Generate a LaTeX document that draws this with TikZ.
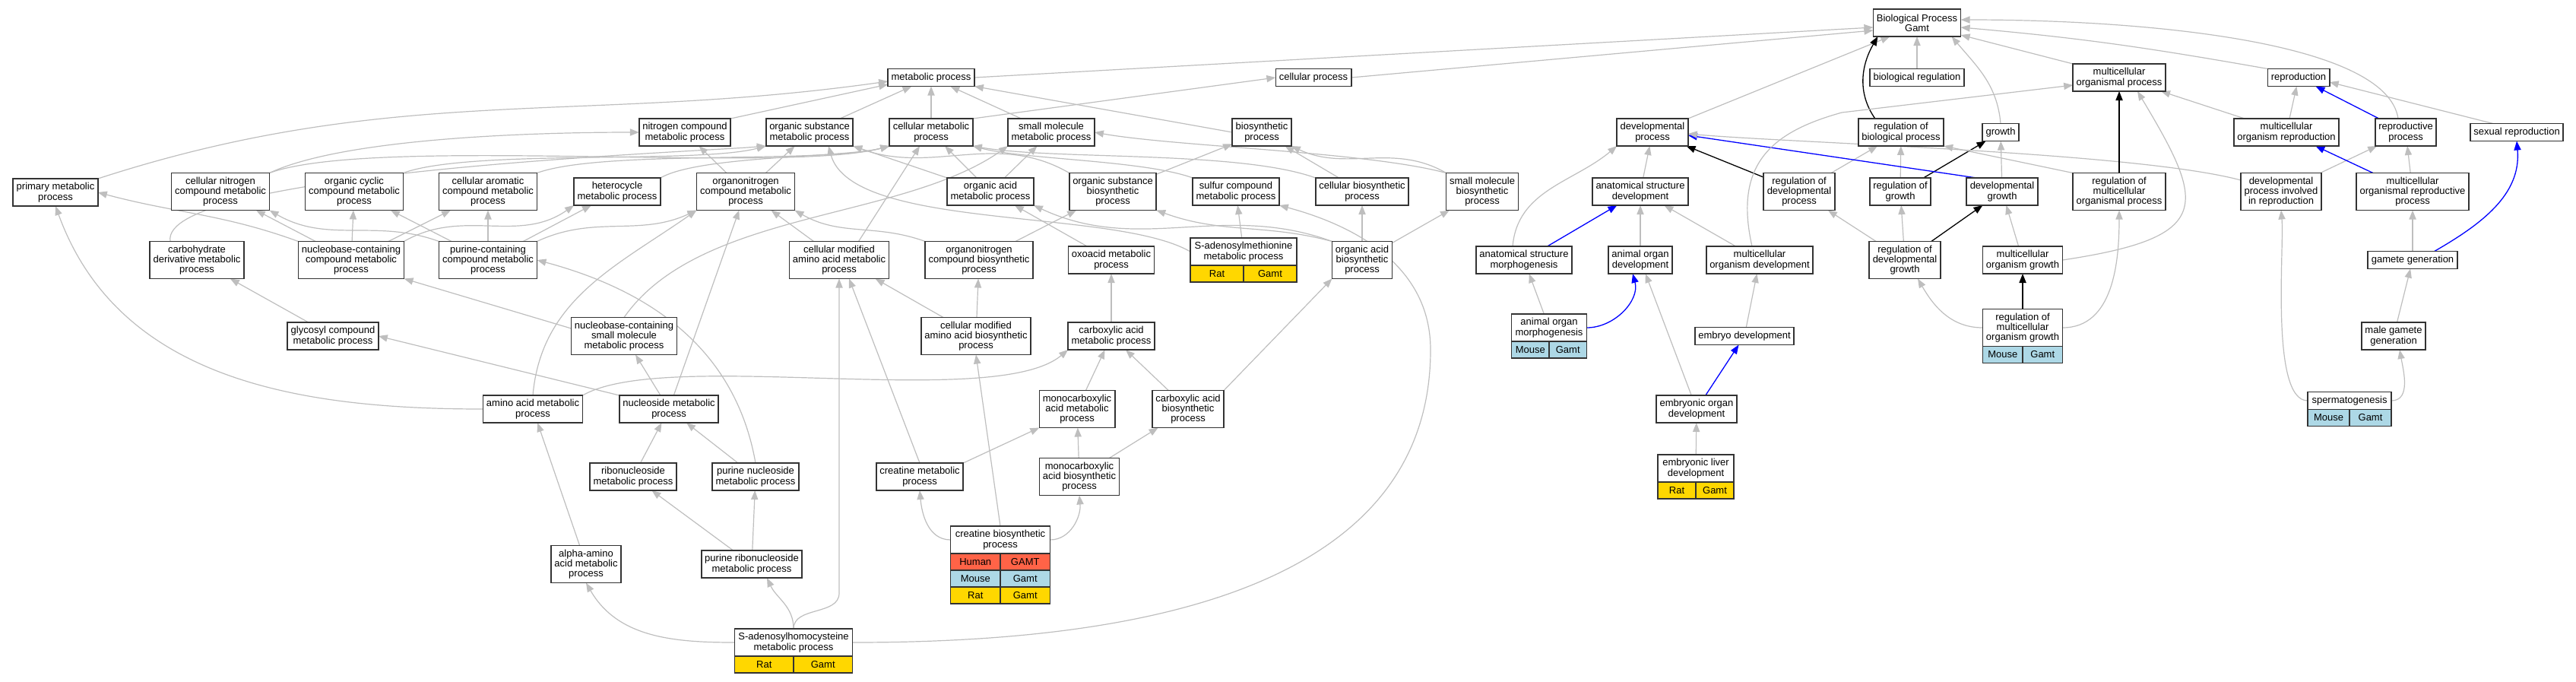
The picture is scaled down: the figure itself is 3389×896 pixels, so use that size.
\documentclass[tikz,border=0pt]{standalone}
\usepackage{fontspec}
\setmainfont{Liberation Sans}
\usetikzlibrary{arrows.meta}
\usetikzlibrary{backgrounds}

\definecolor{edgegray}{RGB}{190,190,190}
\definecolor{ratcol}{RGB}{255,215,0}
\definecolor{mousecol}{RGB}{173,216,230}
\definecolor{humancol}{RGB}{255,99,71}

\tikzset{
  gobox/.style={draw=black!80, line width=0.85pt, fill=white, align=center,
    inner xsep=2.25pt, inner ysep=1pt, outer sep=0pt, minimum height=11.5pt,
    font=\fontsize{6.5}{6.65}\selectfont},
  twoline/.style={minimum height=18pt},
  threeline/.style={minimum height=24.5pt},
  gocell/.style={draw=black!80, line width=0.85pt, minimum height=11pt,
    minimum width=#1, inner sep=0pt, outer sep=0pt,
    font=\fontsize{6.5}{6.65}\selectfont},
  isa/.style={draw=edgegray, line width=0.6pt, -{Triangle[length=6pt,width=4.6pt]}},
  partof/.style={draw=blue, line width=0.65pt, -{Triangle[length=6pt,width=4.6pt]}},
  regulates/.style={draw=black, line width=0.65pt, -{Triangle[length=6pt,width=4.6pt]}},
}

\begin{document}
\begin{tikzpicture}[x=0.5pt,y=-0.5pt]
        \useasboundingbox (0,0) rectangle (3389,896);
        % 顶层
        \node[gobox,twoline] (bp) at (2522,30) {Biological Process\\Gamt};
        \node[gobox] (met) at (1225,102) {metabolic process};
        \node[gobox] (cellp) at (1728,102) {cellular process};
        \node[gobox] (bioreg) at (2522,102) {biological regulation};
        \node[gobox,twoline] (mop) at (2788,102) {multicellular\\organismal process};
        \node[gobox] (repro) at (3024,102) {reproduction};
        % 第二层
        \node[gobox,twoline] (ncmp) at (901,174) {nitrogen compound\\metabolic process};
        \node[gobox,twoline] (osmp) at (1065,174) {organic substance\\metabolic process};
        \node[gobox,twoline] (cmp) at (1225,174) {cellular metabolic\\process};
        \node[gobox,twoline] (smmp) at (1383,174) {small molecule\\metabolic process};
        \node[gobox,twoline] (bio) at (1660,174) {biosynthetic\\process};
        \node[gobox,twoline] (devp) at (2174,174) {developmental\\process};
        \node[gobox,twoline] (rbp) at (2501,174) {regulation of\\biological process};
        \node[gobox] (growth) at (2632,174) {growth};
        \node[gobox,twoline] (mor) at (3008,174) {multicellular\\organism reproduction};
        \node[gobox,twoline] (reprop) at (3165,174) {reproductive\\process};
        \node[gobox] (sr) at (3311,174) {sexual reproduction};
        % 第三层
        \node[gobox,twoline] (pmp) at (73,253) {primary metabolic\\process};
        \node[gobox,threeline] (cncmp) at (290,252) {cellular nitrogen\\compound metabolic\\process};
        \node[gobox,threeline] (occmp) at (466,252) {organic cyclic\\compound metabolic\\process};
        \node[gobox,threeline] (cacmp) at (642,252) {cellular aromatic\\compound metabolic\\process};
        \node[gobox,twoline] (hmp) at (812,252) {heterocycle\\metabolic process};
        \node[gobox,threeline] (oncmp) at (981,252) {organonitrogen\\compound metabolic\\process};
        \node[gobox,twoline] (oamp) at (1303,252) {organic acid\\metabolic process};
        \node[gobox,threeline] (osbp) at (1464,252) {organic substance\\biosynthetic\\process};
        \node[gobox,twoline] (scmp) at (1626,252) {sulfur compound\\metabolic process};
        \node[gobox,twoline] (cbp) at (1792,252) {cellular biosynthetic\\process};
        \node[gobox,threeline] (smbp) at (1950,252) {small molecule\\biosynthetic\\process};
        \node[gobox,twoline] (asd) at (2158,252) {anatomical structure\\development};
        \node[gobox,threeline] (rdp) at (2367,252) {regulation of\\developmental\\process};
        \node[gobox,twoline] (rg) at (2500,252) {regulation of\\growth};
        \node[gobox,twoline] (dg) at (2634,252) {developmental\\growth};
        \node[gobox,threeline] (rmop) at (2788,252) {regulation of\\multicellular\\organismal process};
        \node[gobox,threeline] (dpir) at (3001,252) {developmental\\process involved\\in reproduction};
        \node[gobox,threeline] (morp) at (3174,252) {multicellular\\organismal reproductive\\process};
        % 第四层
        \node[gobox,threeline] (cdmp) at (259,342) {carbohydrate\\derivative metabolic\\process};
        \node[gobox,threeline] (nbc) at (462,342) {nucleobase-containing\\compound metabolic\\process};
        \node[gobox,threeline] (pc) at (642,342) {purine-containing\\compound metabolic\\process};
        \node[gobox,threeline] (cmaa) at (1104,342) {cellular modified\\amino acid metabolic\\process};
        \node[gobox,threeline] (oncbp) at (1288,342) {organonitrogen\\compound biosynthetic\\process};
        \node[gobox,twoline] (oxo) at (1462,342) {oxoacid metabolic\\process};
        \node[gobox,twoline,minimum width=70pt] (samp) at (1636,331) {S-adenosylmethionine\\metabolic process};
        \node[gocell=35pt,fill=ratcol,anchor=north east] (sampR) at (samp.south) {Rat};
        \node[gocell=35pt,fill=ratcol,anchor=north west] (sampG) at (samp.south) {Gamt};
        \node[gobox,threeline] (oabp) at (1792,342) {organic acid\\biosynthetic\\process};
        \node[gobox,twoline] (asm) at (2005,342) {anatomical structure\\morphogenesis};
        \node[gobox,twoline] (aod) at (2158,342) {animal organ\\development};
        \node[gobox,twoline] (mod) at (2315,342) {multicellular\\organism development};
        \node[gobox,threeline] (rdg) at (2506,342) {regulation of\\developmental\\growth};
        \node[gobox,twoline] (mog) at (2661,342) {multicellular\\organism growth};
        \node[gobox] (gg) at (3174,342) {gamete generation};
        % 第五层
        \node[gobox,twoline] (gcmp) at (438,442) {glycosyl compound\\metabolic process};
        \node[gobox,threeline] (nbcsm) at (821,442) {nucleobase-containing\\small molecule\\metabolic process};
        \node[gobox,threeline] (cmab) at (1284,442) {cellular modified\\amino acid biosynthetic\\process};
        \node[gobox,twoline] (camp) at (1462,442) {carboxylic acid\\metabolic process};
        \node[gobox,twoline,minimum width=49.5pt] (aom) at (2038,431) {animal organ\\morphogenesis};
        \node[gocell=24.75pt,fill=mousecol,anchor=north east] (aomM) at (aom.south) {Mouse};
        \node[gocell=24.75pt,fill=mousecol,anchor=north west] (aomG) at (aom.south) {Gamt};
        \node[gobox] (emb) at (2295,442) {embryo development};
        \node[gobox,threeline,minimum width=52.5pt] (rmog) at (2661,431) {regulation of\\multicellular\\organism growth};
        \node[gocell=26.25pt,fill=mousecol,anchor=north east] (rmogM) at (rmog.south) {Mouse};
        \node[gocell=26.25pt,fill=mousecol,anchor=north west] (rmogG) at (rmog.south) {Gamt};
        \node[gobox,twoline] (mgg) at (3149,442) {male gamete\\generation};
        % 第六层
        \node[gobox,twoline] (aamp) at (701,538) {amino acid metabolic\\process};
        \node[gobox,twoline] (nmp) at (880,538) {nucleoside metabolic\\process};
        \node[gobox,threeline] (mcamp) at (1417,538) {monocarboxylic\\acid metabolic\\process};
        \node[gobox,threeline] (cabp) at (1563,538) {carboxylic acid\\biosynthetic\\process};
        \node[gobox,twoline] (eod) at (2232,538) {embryonic organ\\development};
        \node[gobox,minimum width=55pt] (sperm) at (3091,527) {spermatogenesis};
        \node[gocell=27.5pt,fill=mousecol,anchor=north east] (spermM) at (sperm.south) {Mouse};
        \node[gocell=27.5pt,fill=mousecol,anchor=north west] (spermG) at (sperm.south) {Gamt};
        % 第七层
        \node[gobox,twoline] (rnmp) at (833,627) {ribonucleoside\\metabolic process};
        \node[gobox,twoline] (pnmp) at (994,627) {purine nucleoside\\metabolic process};
        \node[gobox,twoline] (crmp) at (1210,627) {creatine metabolic\\process};
        \node[gobox,threeline] (mcabp) at (1420,627) {monocarboxylic\\acid biosynthetic\\process};
        \node[gobox,twoline,minimum width=50pt] (eld) at (2231,616) {embryonic liver\\development};
        \node[gocell=25pt,fill=ratcol,anchor=north east] (eldR) at (eld.south) {Rat};
        \node[gocell=25pt,fill=ratcol,anchor=north west] (eldG) at (eld.south) {Gamt};
        % 底层
        \node[gobox,threeline] (alpha) at (771,742) {alpha-amino\\acid metabolic\\process};
        \node[gobox,twoline] (prnmp) at (989,742) {purine ribonucleoside\\metabolic process};
        \node[gobox,twoline,minimum width=65.5pt] (crbp) at (1316,710) {creatine biosynthetic\\process};
        \node[gocell=32.75pt,fill=humancol,anchor=north east] (crbpH) at (crbp.south) {Human};
        \node[gocell=32.75pt,fill=humancol,anchor=north west] (crbpHg) at (crbp.south) {GAMT};
        \node[gocell=32.75pt,fill=mousecol,anchor=north east] (crbpM) at (crbpH.south east) {Mouse};
        \node[gocell=32.75pt,fill=mousecol,anchor=north west] (crbpMg) at (crbpH.south east) {Gamt};
        \node[gocell=32.75pt,fill=ratcol,anchor=north east] (crbpR) at (crbpM.south east) {Rat};
        \node[gocell=32.75pt,fill=ratcol,anchor=north west] (crbpRg) at (crbpM.south east) {Gamt};
        \node[gobox,twoline,minimum width=77.5pt] (sah) at (1044,845) {S-adenosylhomocysteine\\metabolic process};
        \node[gocell=38.75pt,fill=ratcol,anchor=north east] (sahR) at (sah.south) {Rat};
        \node[gocell=38.75pt,fill=ratcol,anchor=north west] (sahG) at (sah.south) {Gamt};
        % 拐点
        \coordinate (sahup) at (1104,780);
        \coordinate (sahbend) at (1882,460);
        \coordinate (modbend) at (2423,148);

        % 连线
        \begin{scope}[on background layer]
        % 指向顶层
        \draw[isa] (met.east) -- ([yshift=-3pt]bp.west);
        \draw[isa] (cellp.east) -- ([yshift=-5pt]bp.west);
        \draw[isa] (devp.north east) -- ([xshift=11pt]bp.south west);
        \draw[isa] (bioreg) -- (bp);
        \draw[regulates] ([xshift=11pt]rbp.north west) to[out=125,in=240] ([xshift=3pt]bp.south west);
        \draw[isa] (growth.north) to[out=95,in=-50] ([xshift=-6pt]bp.south east);
        \draw[isa] (mop.north west) -- ([yshift=1pt]bp.south east);
        \draw[isa] (repro.north west) to[out=170,in=-5] ([yshift=-3pt]bp.east);
        \draw[isa] ([xshift=-5pt]reprop.north) .. controls +(-15,-100) and +(250,0) .. ([yshift=2pt]bp.east);
        % 代谢部分
        \draw[isa] (pmp.north east) to[out=18,in=188] ([yshift=-2.5pt]met.west);
        \draw[isa] (ncmp.north east) -- ([yshift=-4.5pt]met.west);
        \draw[isa] (osmp) -- (met);
        \draw[isa] (cmp) -- (met);
        \draw[isa] (smmp) -- (met);
        \draw[isa] (bio.west) -- (met.south east);
        \draw[isa] (cmp.north east) -- (cellp.west);
        \draw[isa] (cncmp.north east) to[out=25,in=180,looseness=0.6] (ncmp.west);
        \draw[isa] (cncmp.north east) to[out=20,in=195,looseness=0.45] (cmp.south west);
        \draw[isa] (occmp.north east) to[out=20,in=195,looseness=0.5] (osmp.south west);
        \draw[isa] (cacmp.north east) to[out=20,in=195,looseness=0.5] (cmp.south west);
        \draw[isa] (hmp.north east) to[out=30,in=195,looseness=0.5] (cmp.south west);
        \draw[isa] ([xshift=-17.5pt]cdmp.north) to[out=100,in=185,looseness=0.3] (osmp.south west);
        \draw[isa] (oncmp) -- (ncmp);
        \draw[isa] (oncmp) -- (osmp);
        \draw[isa] (oamp.north west) -- (osmp.south east);
        \draw[isa] (oamp) -- (cmp);
        \draw[isa] (oamp) -- (smmp);
        \draw[isa] (osbp.north west) to[out=150,in=-20] (osmp.south east);
        \draw[isa] (osbp) -- (bio);
        \draw[isa] (scmp.north west) to[out=160,in=-15,looseness=0.6] (cmp.south east);
        \draw[isa] (cbp.north west) to[out=160,in=-10,looseness=0.6] (cmp.south east);
        \draw[isa] (cbp) -- (bio);
        \draw[isa] (smbp.north west) to[out=150,in=-25] (bio.south east);
        \draw[isa] (smbp.north west) to[out=165,in=-10,looseness=0.6] (smmp.east);
        \draw[isa] (nbc.north west) to[out=160,in=-15] (pmp.east);
        \draw[isa] (nbc) -- (cncmp);
        \draw[isa] (nbc) -- (occmp);
        \draw[isa] (nbc) -- (cacmp);
        \draw[isa] (nbc.north east) to[out=30,in=-145] (hmp.south west);
        \draw[isa] (pc.north west) to[out=160,in=-30] (cncmp.south east);
        \draw[isa] (pc) -- (occmp);
        \draw[isa] (pc) -- (cacmp);
        \draw[isa] (pc) -- (hmp);
        \draw[isa] (pc.north east) to[out=25,in=-155] (oncmp.south west);
        \draw[isa] (gcmp) -- (cdmp);
        \draw[isa] (pnmp.north) to[out=100,in=-15] (pc.east);
        \draw[isa] ([yshift=5pt]nbcsm.west) -- (nbc.south east);
        \draw[isa] (nbcsm.north) to[out=55,in=-145,looseness=0.8] (smmp.south west);
        \draw[isa] (nmp) -- (nbcsm);
        \draw[isa] (nmp.north west) -- (gcmp.east);
        \draw[isa] (nmp) -- (oncmp);
        \draw[isa] (rnmp) -- (nmp);
        \draw[isa] (pnmp) -- (nmp);
        \draw[isa] (prnmp) -- (rnmp);
        \draw[isa] (prnmp) -- (pnmp);
        \draw[isa] (aamp.west) to[out=180,in=-70] (pmp.south);
        \draw[isa] (aamp.north) to[out=85,in=-145] (oncmp.south west);
        \draw[isa] (aamp.north east) to[out=30,in=-140,looseness=0.5] (camp.south west);
        \draw[isa] (alpha) -- (aamp);
        \draw[isa] (sah.west) to[out=180,in=-60] (alpha.south);
        \draw[isa] (sah.north) to[out=90,in=-65] ([xshift=10pt]prnmp.south);
        \draw[isa] (sah.north) to[out=90,in=-90] (sahup) -- (cmaa.south);
        \draw[isa] (sah.east) to[out=0,in=-90] (sahbend) to[out=90,in=-15] (scmp.south east);
        \draw[isa] ([xshift=-20pt]cmaa.north east) -- ([xshift=-7.5pt]cmp.south);
        \draw[isa] (cmaa) -- (oncmp);
        \draw[isa] (oncbp.north west) to[out=160,in=-30] (oncmp.south east);
        \draw[isa] (oncbp) -- (osbp);
        \draw[isa] (oxo) -- (oamp);
        \draw[isa] (samp) -- (scmp);
        \draw[isa] (samp.west) to[out=150,in=-75,looseness=0.6] ([xshift=12.5pt]osmp.south);
        \draw[isa] (oabp.north west) to[out=160,in=-25] (oamp.south east);
        \draw[isa] (oabp.north west) to[out=165,in=-20] (osbp.south east);
        \draw[isa] (oabp) -- (cbp);
        \draw[isa] (oabp) -- (smbp);
        \draw[isa] (cmab) -- ([xshift=-9pt]cmaa.south east);
        \draw[isa] (cmab) -- (oncbp);
        \draw[isa] (camp) -- (oxo);
        \draw[isa] (mcamp) -- (camp);
        \draw[isa] (cabp) -- (camp);
        \draw[isa] (cabp.north east) -- (oabp.south west);
        \draw[isa] (mcabp) -- (mcamp);
        \draw[isa] (mcabp) -- (cabp);
        \draw[isa] (crmp.north east) -- (mcamp.south west);
        \draw[isa] (crmp.north) -- ([xshift=6.5pt]cmaa.south);
        \draw[isa] (crbp.west) to[out=180,in=-85] (crmp.south);
        \draw[isa] (crbp.east) to[out=0,in=-85] (mcabp.south);
        \draw[isa] (crbp.north) -- (cmab.south);
        % 发育部分
        \draw[isa] (asd) -- (devp);
        \draw[partof] (asm) -- (asd);
        \draw[isa] ([xshift=-7.5pt]asm.north) to[out=85,in=-140] (devp.south west);
        \draw[isa] (aod) -- (asd);
        \draw[isa] (mod) -- (asd);
        \draw[isa] (aom) -- (asm);
        \draw[partof] (aom.east) to[out=0,in=-75] ([xshift=-5pt]aod.south);
        \draw[isa] (emb) -- (mod);
        \draw[partof] (eod) -- (emb);
        \draw[isa] (eod) -- (aod);
        \draw[isa] (eld) -- (eod);
        \draw[regulates] (rdp) -- (devp);
        \draw[isa] (rdp) -- (rbp);
        \draw[isa] (rg) -- (rbp);
        \draw[regulates] (rg) -- (growth);
        \draw[isa] (dg) -- (growth);
        \draw[partof] ([xshift=6.5pt]dg.north west) -- ([yshift=-2pt]devp.east);
        \draw[isa] ([yshift=7.5pt]dpir.west) to[out=165,in=-5,looseness=0.5] ([yshift=-1pt]devp.east);
        \draw[isa] ([xshift=-5pt]mod.north) .. controls +(-25,-110) and +(-90,25) .. (modbend) -- ([yshift=-5pt]mop.west);
        \draw[regulates] (rmop) -- (mop);
        \draw[isa] (rmop.north west) -- (rbp.south east);
        \draw[isa] (rdg) -- (rdp);
        \draw[isa] (rdg) -- (rg);
        \draw[regulates] (rdg) -- (dg);
        \draw[isa] (mog) -- (dg);
        \draw[isa] (mog.east) .. controls +(200,-30) and +(90,150) .. ([xshift=12pt]mop.south);
        \draw[regulates] (rmog) -- (mog);
        \draw[isa] (rmog.west) to[out=180,in=-60] ([xshift=8.5pt]rdg.south);
        \draw[isa] (rmog.east) to[out=0,in=-90] (rmop.south);
        % 生殖部分
        \draw[isa] (mor) -- (mop);
        \draw[isa] (mor) -- (repro);
        \draw[partof] (reprop) -- (repro);
        \draw[isa] ([xshift=15pt]sr.north west) -- ([yshift=-3pt]repro.east);
        \draw[isa] (dpir) -- (reprop);
        \draw[partof] (morp) -- (mor);
        \draw[isa] (morp) -- (reprop);
        \draw[isa] (gg) -- (morp);
        \draw[partof] ([xshift=-15pt]gg.north east) to[out=30,in=-85] (sr.south);
        \draw[isa] (mgg) -- (gg);
        \draw[isa] (sperm.east) to[out=0,in=-80] ([xshift=4pt]mgg.south);
        \draw[isa] (sperm.west) to[out=180,in=-85,looseness=0.5] (dpir.south);
        \end{scope}

    \end{tikzpicture}
\end{document}
